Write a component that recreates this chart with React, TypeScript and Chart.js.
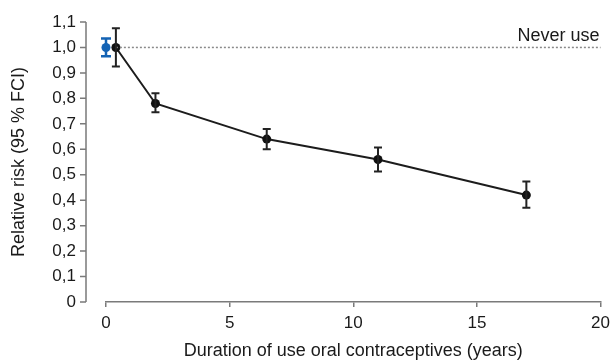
import React, { useEffect, useRef } from 'react';
import { Chart, registerables } from 'chart.js';

Chart.register(...registerables);

// ---- data ----
const durationYears = [0.4, 2, 6.5, 11, 17];
const relativeRisk = [1.0, 0.78, 0.64, 0.56, 0.42];
const ciLow = [0.925, 0.745, 0.6, 0.513, 0.37];
const ciHigh = [1.075, 0.82, 0.68, 0.607, 0.473];

const neverUseX = [0];
const neverUseRisk = [1.0];
const neverUseLow = [0.965];
const neverUseHigh = [1.035];

const referenceX = [0.4, 20];
const referenceRisk = 1.0;
const referenceLabel = 'Never use';

const xTickValues = [0, 5, 10, 15, 20];
const yTickValues = [0, 0.1, 0.2, 0.3, 0.4, 0.5, 0.6, 0.7, 0.8, 0.9, 1.0, 1.1];
const yTickLabels = ['0', '0,1', '0,2', '0,3', '0,4', '0,5', '0,6', '0,7', '0,8', '0,9', '1,0', '1,1'];

const xTitle = 'Duration of use oral contraceptives (years)';
const yTitle = 'Relative risk (95 % FCI)';

const FONT = "'Liberation Sans', Arial, Helvetica, sans-serif";
const AXIS_COLOR = '#7a7a7a';
const TEXT_COLOR = '#1a1a1a';
const BLUE = '#1463b4';
const BLACK = '#111111';

const errorBarPlugin = {
  id: 'errorBars',
  afterDatasetsDraw(chart: any) {
    const ctx = chart.ctx;
    const ys = chart.scales.y;
    chart.data.datasets.forEach((ds: any, di: number) => {
      if (!ds.errLow) return;
      const meta = chart.getDatasetMeta(di);
      ctx.save();
      ctx.strokeStyle = ds.errColor;
      ctx.lineWidth = ds.errWidth;
      meta.data.forEach((pt: any, i: number) => {
        const x = pt.x;
        const yl = ys.getPixelForValue(ds.errLow[i]);
        const yh = ys.getPixelForValue(ds.errHigh[i]);
        const cw = ds.capHalf;
        ctx.beginPath();
        ctx.moveTo(x, yl);
        ctx.lineTo(x, yh);
        ctx.moveTo(x - cw, yl);
        ctx.lineTo(x + cw, yl);
        ctx.moveTo(x - cw, yh);
        ctx.lineTo(x + cw, yh);
        ctx.stroke();
      });
      ctx.restore();
    });
  },
};

const customAxesPlugin = {
  id: 'customAxes',
  afterDraw(chart: any) {
    const ctx = chart.ctx;
    const ys = chart.scales.y;
    const xs = chart.scales.x;
    const ax = chart.chartArea.left - 20;
    ctx.save();
    ctx.strokeStyle = AXIS_COLOR;
    ctx.lineWidth = 1.5;
    ctx.beginPath();
    ctx.moveTo(ax, ys.getPixelForValue(yTickValues[yTickValues.length - 1]));
    ctx.lineTo(ax, ys.getPixelForValue(yTickValues[0]));
    yTickValues.forEach((v) => {
      const py = ys.getPixelForValue(v);
      ctx.moveTo(ax - 6, py);
      ctx.lineTo(ax, py);
    });
    ctx.stroke();

    // reference label
    ctx.fillStyle = TEXT_COLOR;
    ctx.font = `18px ${FONT}`;
    ctx.textAlign = 'right';
    ctx.textBaseline = 'alphabetic';
    ctx.fillText(referenceLabel, xs.getPixelForValue(referenceX[1]) - 1, ys.getPixelForValue(referenceRisk) - 6);
    ctx.restore();
  },
};

export default function App() {
  const ref = useRef<HTMLCanvasElement>(null);
  useEffect(() => {
    const chart = new Chart(ref.current!, {
      type: 'scatter',
      data: {
        datasets: [
          {
            label: 'reference',
            data: referenceX.map((x) => ({ x, y: referenceRisk })),
            showLine: true,
            borderColor: '#8a8a8a',
            borderWidth: 1.5,
            borderDash: [2, 2],
            pointRadius: 0,
            clip: false,
          } as any,
          {
            label: 'Never use',
            data: neverUseX.map((x, i) => ({ x, y: neverUseRisk[i] })),
            pointRadius: 4.5,
            backgroundColor: BLUE,
            borderColor: BLUE,
            borderWidth: 0,
            errLow: neverUseLow,
            errHigh: neverUseHigh,
            errColor: BLUE,
            errWidth: 2.5,
            capHalf: 5,
            clip: false,
          } as any,
          {
            label: 'Duration',
            data: durationYears.map((x, i) => ({ x, y: relativeRisk[i] })),
            showLine: true,
            borderColor: '#1c1c1c',
            borderWidth: 2,
            pointRadius: 4.5,
            backgroundColor: BLACK,
            pointBorderWidth: 0,
            errLow: ciLow,
            errHigh: ciHigh,
            errColor: '#222222',
            errWidth: 2,
            capHalf: 4,
            clip: false,
          } as any,
        ],
      },
      options: {
        responsive: false,
        animation: false,
        layout: { padding: { top: 22, right: 12, left: 0, bottom: 0 } },
        plugins: { legend: { display: false }, tooltip: { enabled: false } },
        scales: {
          x: {
            type: 'linear',
            min: 0,
            max: 20,
            afterBuildTicks: (s: any) => {
              s.ticks = xTickValues.map((v) => ({ value: v }));
            },
            afterFit: (s: any) => {
              s.height = 58;
            },
            ticks: {
              font: { family: FONT, size: 17 },
              color: TEXT_COLOR,
              padding: 6,
              maxRotation: 0,
              callback: (v: any) => String(v),
            },
            grid: {
              display: true,
              drawOnChartArea: false,
              drawTicks: true,
              tickLength: 5,
              color: AXIS_COLOR,
              lineWidth: 1.5,
            },
            border: { display: true, color: AXIS_COLOR, width: 1.5 },
            title: {
              display: true,
              text: xTitle,
              font: { family: FONT, size: 18, lineHeight: 1 },
              color: TEXT_COLOR,
              padding: { top: 0, bottom: 0 },
            },
          },
          y: {
            type: 'linear',
            min: 0,
            max: 1.1,
            afterBuildTicks: (s: any) => {
              s.ticks = yTickValues.map((v) => ({ value: v }));
            },
            afterFit: (s: any) => {
              s.width = 106;
            },
            ticks: {
              font: { family: FONT, size: 17 },
              color: TEXT_COLOR,
              padding: 2,
              callback: (_v: any, i: number) => yTickLabels[i],
            },
            grid: { display: false, drawTicks: true, tickLength: 28 },
            border: { display: false },
            title: {
              display: true,
              text: yTitle,
              font: { family: FONT, size: 18, lineHeight: 1.2 },
              color: TEXT_COLOR,
              padding: { top: 8, bottom: 0 },
            },
          },
        },
      } as any,
      plugins: [errorBarPlugin, customAxesPlugin],
    });
    return () => chart.destroy();
  }, []);
  return (
    <div style={{ position: 'absolute', left: 0, top: 0, width: 616, height: 360, background: '#fff' }}>
      <canvas ref={ref} width={616} height={360} style={{ display: 'block' }} />
    </div>
  );
}
